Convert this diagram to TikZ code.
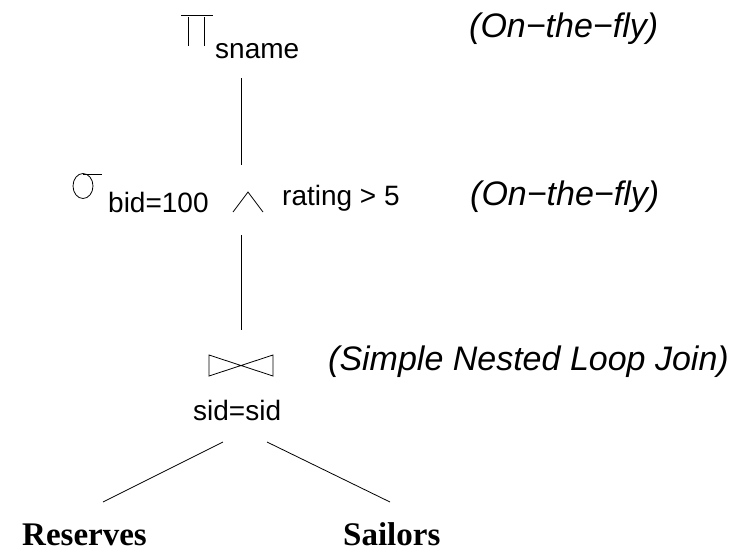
\documentclass[tikz,border=0pt]{standalone}
\usepackage{fontspec}
\setmainfont{Liberation Sans}
\newfontfamily\timesfont{Liberation Serif}
\tikzset{
  lbl/.style={anchor=base west,inner sep=0pt,font=\fontsize{28}{32}\selectfont},
  howlbl/.style={anchor=base west,inner sep=0pt,font=\fontsize{34}{40}\selectfont\itshape},
  rel/.style={anchor=base west,inner sep=0pt,text depth=0pt,font=\fontsize{33}{38}\selectfont\timesfont\bfseries},
  edge/.style={line width=0.8pt}
}
\begin{document}
\begin{tikzpicture}[x=1pt,y=-1pt]
  \useasboundingbox (0,0) rectangle (740,552);
  % projection
  \draw[edge] (181,15)--(213,15) (188,17)--(188,46) (204,17)--(204,46);
  \node[lbl] (proj) at (215,58) {sname};
  \node[howlbl] (howproj) at (469,37) {(On−the−fly)};
  % selection
  \draw[edge] (83,186) ellipse [x radius=10,y radius=12.5];
  \draw[edge] (83,174)--(102,174);
  \node[lbl] (selbid) at (108,212) {bid=100};
  \draw[edge] (233,212)--(248,192)--(263,212);
  \node[lbl] (selrat) at (282,205) {rating > 5};
  \node[howlbl] (howsel) at (470,205) {(On−the−fly)};
  % join
  \draw[edge] (209,355)--(273,376)--(273,355)--(209,376)--cycle;
  \node[lbl] (join) at (193,420) {sid=sid};
  \node[howlbl] (howjoin) at (328,370) {(Simple Nested Loop Join)};
  % relations
  \node[rel] (res) at (22,545) {Reserves};
  \node[rel] (sail) at (343,545) {Sailors};
  % tree edges
  \coordinate (p1) at (241,78);
  \coordinate (s1) at (241,165);
  \coordinate (s2) at (241,235);
  \coordinate (j1) at (241,330);
  \coordinate (jl) at (223,442);
  \coordinate (jr) at (267,442);
  \coordinate (rt) at (103,502);
  \coordinate (st) at (390,502);
  \draw[edge] (p1)--(s1);
  \draw[edge] (s2)--(j1);
  \draw[edge] (jl)--(rt);
  \draw[edge] (jr)--(st);
\end{tikzpicture}
\end{document}
